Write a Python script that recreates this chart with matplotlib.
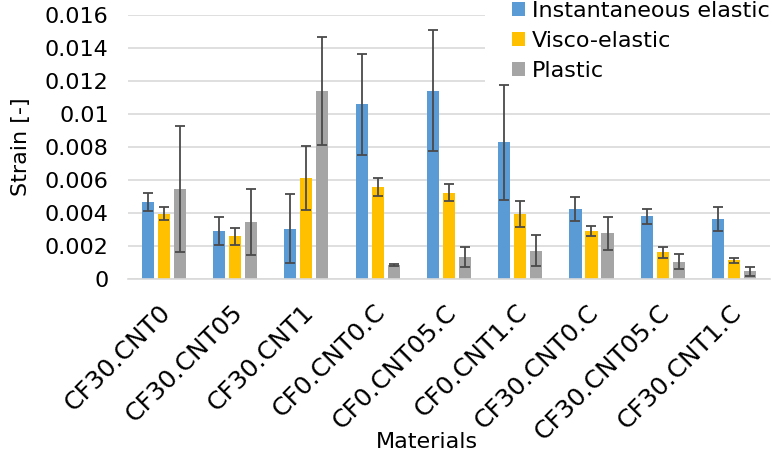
import numpy as np
import matplotlib.pyplot as plt
import matplotlib.transforms as mtransforms
from matplotlib.patches import Rectangle

plt.rcParams['font.family'] = ['DejaVu Sans']

materials = ['CF30.CNT0', 'CF30.CNT05', 'CF30.CNT1', 'CF0.CNT0.C', 'CF0.CNT05.C',
             'CF0.CNT1.C', 'CF30.CNT0.C', 'CF30.CNT05.C', 'CF30.CNT1.C']

inst = [0.00468, 0.00291, 0.00307, 0.01059, 0.01141, 0.00828, 0.00426, 0.00380, 0.00364]
inst_err = [0.00053, 0.00085, 0.00210, 0.00305, 0.00366, 0.00350, 0.00071, 0.00046, 0.00071]
visco = [0.00396, 0.00259, 0.00612, 0.00556, 0.00525, 0.00396, 0.00291, 0.00162, 0.00115]
visco_err = [0.00039, 0.00054, 0.00192, 0.00054, 0.00053, 0.00077, 0.00030, 0.00032, 0.00014]
plastic = [0.00547, 0.00347, 0.01141, 0.00085, 0.00133, 0.00172, 0.00277, 0.00107, 0.00048]
plastic_err = [0.00382, 0.00198, 0.00326, 0.00006, 0.00061, 0.00093, 0.00101, 0.00046, 0.00027]

series = [
    ('Instantaneous elastic', inst, inst_err, '#5B9BD5'),
    ('Visco-elastic', visco, visco_err, '#FFC000'),
    ('Plastic', plastic, plastic_err, '#A5A5A5'),
]

fig = plt.figure(figsize=(7.72, 4.54), dpi=100)
ax = fig.add_axes([0.166, 0.385, 0.831, 0.582])

x = np.arange(len(materials))
width = 0.17
step = 0.225
for i, (name, vals, errs, col) in enumerate(series):
    ax.bar(x + (i - 1) * step, vals, width, color=col, label=name, zorder=2)
    ax.errorbar(x + (i - 1) * step, vals, yerr=errs, fmt='none', ecolor='#4a4a4a',
                elinewidth=1.3, capsize=3.6, capthick=1.3, zorder=3)

ax.set_xlim(-0.5, len(materials) - 0.5)
ax.set_ylim(0, 0.016)
ax.set_yticks(np.arange(0, 0.0161, 0.002))
ax.set_yticklabels(['0', '0.002', '0.004', '0.006', '0.008', '0.01', '0.012', '0.014', '0.016'])
ax.yaxis.grid(True, color='#d9d9d9', linewidth=1.2, zorder=0)
ax.set_axisbelow(True)
for s in ['top', 'right', 'left']:
    ax.spines[s].set_visible(False)
ax.spines['bottom'].set_color('#d9d9d9')
ax.spines['bottom'].set_linewidth(1.2)
ax.tick_params(axis='y', length=0, labelsize=16, pad=14)
ax.tick_params(axis='x', length=0, labelsize=18, pad=15)
ax.set_xticks(x)
ax.set_xticklabels(materials, rotation=45, ha='right', rotation_mode='anchor')
# nudge the rotated labels a little to the left
shift = mtransforms.ScaledTranslation(-3.5 / 72, 0, fig.dpi_scale_trans)
for lab in ax.get_xticklabels():
    lab.set_transform(lab.get_transform() + shift)
ax.set_xlabel('Materials', fontsize=16)
ax.xaxis.set_label_coords(0.466, -0.58)
ax.set_ylabel('Strain [-]', fontsize=16)
ax.yaxis.set_label_coords(-0.152, 0.5)

# white block behind the legend, hides the gridlines there
fig.add_artist(Rectangle((485 / 772, 1 - 83 / 454), 1, 1, transform=fig.transFigure,
                         facecolor='white', edgecolor='none', zorder=1))
leg = fig.legend(loc='upper right', bbox_to_anchor=(0.997, 0.998), fontsize=16, frameon=False,
                 handlelength=0.6, handleheight=0.55, handletextpad=0.3,
                 labelspacing=0.45, borderpad=0.0, borderaxespad=0.0)

fig.savefig('out.png', dpi=100)
